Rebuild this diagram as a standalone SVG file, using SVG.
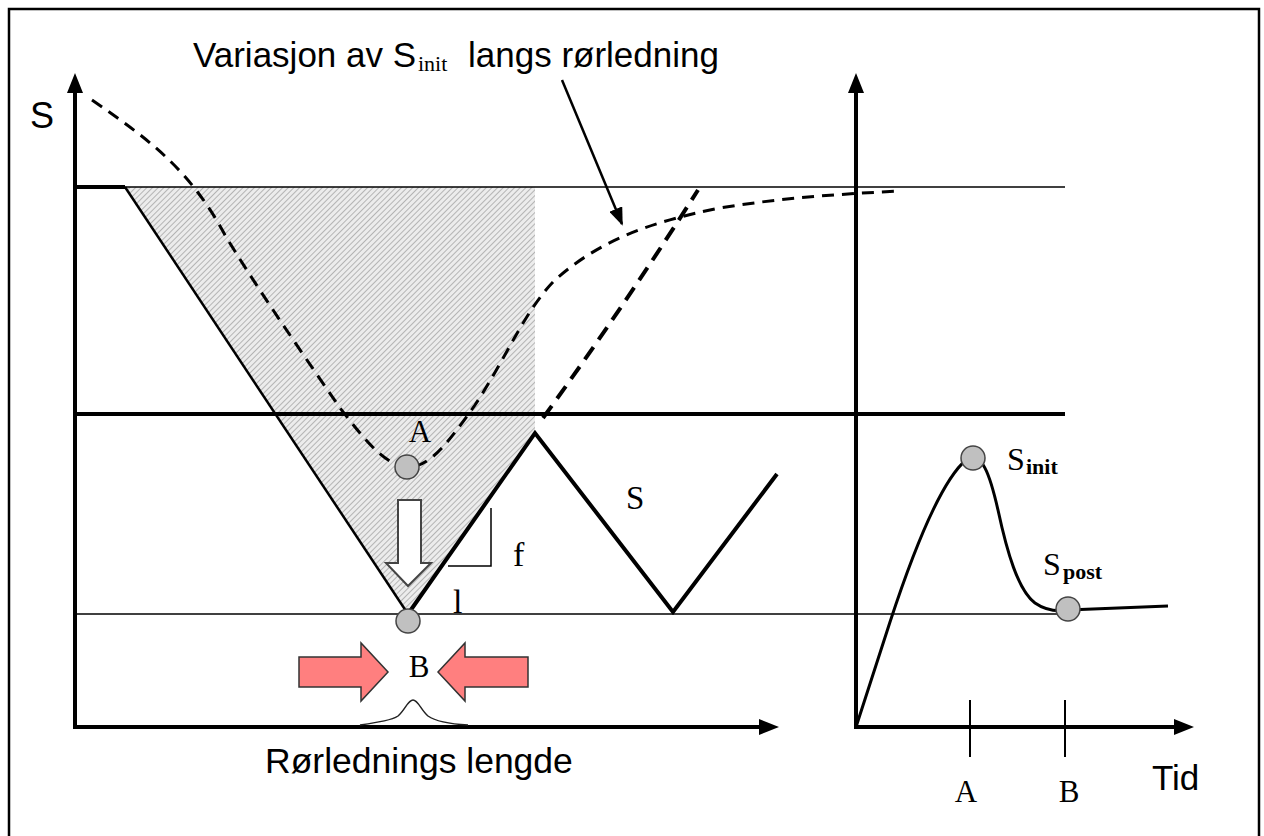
<svg xmlns="http://www.w3.org/2000/svg" width="1264" height="836" viewBox="0 0 1264 836">
<defs>
<pattern id="hatch" width="4" height="4" patternUnits="userSpaceOnUse" patternTransform="rotate(45)">
<rect width="4" height="4" fill="#ececec"/>
<line x1="0" y1="0" x2="0" y2="4" stroke="#a6a6a6" stroke-width="1.6"/>
</pattern>
<marker id="ah2" viewBox="0 0 10 10" refX="9" refY="5" markerWidth="18" markerHeight="14" markerUnits="userSpaceOnUse" orient="auto" preserveAspectRatio="none">
<path d="M0,0 L10,5 L0,10 z" fill="#000"/>
</marker>
</defs>
<style>
.sans{font-family:"Liberation Sans",Arial,sans-serif;fill:#000}
.serif{font-family:"Liberation Serif","Times New Roman",serif;fill:#000}
.ax{stroke:#000;stroke-width:4;fill:none}
.thin{stroke:#000;stroke-width:1.5;fill:none}
.thick{stroke:#000;stroke-width:4;fill:none}
.dash1{stroke:#000;stroke-width:3;fill:none;stroke-dasharray:12 8}
.dash2{stroke:#000;stroke-width:4;fill:none;stroke-dasharray:15 9}
.dot{fill:#c0c0c0;stroke:#444;stroke-width:1.5}
.red{fill:#ff7f7f;stroke:#333;stroke-width:1.5}
</style>
<rect x="0" y="0" width="1264" height="836" fill="#fff"/>
<rect x="9" y="9" width="1250" height="840" fill="none" stroke="#000" stroke-width="2.5"/>

<g id="hatched-area">
<polygon points="125,187 535,187 535,433 408,614" fill="url(#hatch)"/>
</g>

<g id="reference-lines">
<line class="thin" x1="75" y1="187" x2="1065" y2="187"/>
<line class="thin" x1="75" y1="614" x2="1062" y2="614"/>
<line class="thick" x1="75" y1="414" x2="1065" y2="414"/>
<line class="thick" x1="75" y1="187" x2="125" y2="187"/>
</g>

<g id="left-axes">
<line class="ax" x1="75" y1="90" x2="75" y2="729"/>
<polygon points="75,73 67,93 83,93" fill="#000"/>
<line class="ax" x1="73" y1="727" x2="762" y2="727"/>
<polygon points="779,727 759,719 759,735" fill="#000"/>
</g>

<g id="right-axes">
<line class="ax" x1="856" y1="90" x2="856" y2="729"/>
<polygon points="856,73 848,93 864,93" fill="#000"/>
<line class="ax" x1="854" y1="727" x2="1176" y2="727"/>
<polygon points="1194,727 1174,719 1174,735" fill="#000"/>
<line stroke="#000" stroke-width="2" x1="970" y1="700" x2="970" y2="757"/>
<line stroke="#000" stroke-width="2" x1="1065" y1="700" x2="1065" y2="757"/>
</g>

<g id="v-profile">
<line stroke="#000" stroke-width="2.5" x1="125" y1="187" x2="408" y2="614"/>
<polyline class="thick" points="408,614 535,433 673,612 777,474"/>
<polyline class="thin" points="448,566 491,566 491,508"/>
</g>

<g id="dashed-curves">
<path class="dash1" d="M92,100 C150,140 190,170 225,235 C255,285 300,350 340,408 C365,440 385,466 408,467 C430,468 450,440 475,405 C505,360 525,310 555,280 C600,240 650,222 720,208 C780,198 840,194 900,191"/>
<path class="dash2" d="M543,418 Q625,305 698,190"/>
</g>

<g id="title">
<text class="sans" x="193" y="67" font-size="35">Variasjon av S</text>
<text class="serif" x="418" y="71" font-size="22">init</text>
<text class="sans" x="468" y="67" font-size="35">langs rørledning</text>
<line stroke="#000" stroke-width="2.5" x1="562" y1="80" x2="622" y2="224" marker-end="url(#ah2)"/>
</g>

<g id="point-A">
<text class="serif" x="420" y="442" font-size="31" text-anchor="middle">A</text>
<circle class="dot" cx="407" cy="467" r="12"/>
</g>

<g id="down-arrow">
<polygon points="398,500 421,500 421,563 431,563 408,586 386,563 398,563" fill="#fff" stroke="#444" stroke-width="2"/>
</g>

<g id="point-B">
<circle class="dot" cx="408" cy="621" r="12"/>
<text class="serif" x="419" y="677" font-size="31" text-anchor="middle">B</text>
<polygon class="red" points="299,657 361,657 361,643 388,672 361,701 361,687 299,687"/>
<polygon class="red" points="528,657 465,657 465,643 438,672 465,701 465,687 528,687"/>
<path stroke="#222" stroke-width="1.5" fill="none" d="M360,725 C380,722 392,720 398,716 C405,710 408,700 413,700 C418,700 421,710 428,716 C435,721 450,724 468,725"/>
</g>

<g id="labels-left">
<text class="sans" x="30" y="128" font-size="36">S</text>
<text class="serif" x="513" y="566" font-size="34">f</text>
<text class="serif" x="453" y="613" font-size="34">l</text>
<text class="serif" x="626" y="509" font-size="33">S</text>
<text class="sans" x="265" y="773" font-size="35.5">Rørlednings lengde</text>
</g>

<g id="time-curve">
<path stroke="#000" stroke-width="3" fill="none" d="M856,727 L890,622 C912,555 940,482 966,460 C982,450 990,475 998,510 C1007,552 1018,590 1035,603 C1045,610 1055,612 1068,610 L1168,606"/>
<circle class="dot" cx="973" cy="458" r="12"/>
<circle class="dot" cx="1068" cy="609" r="12"/>
<text class="serif" x="1007" y="470" font-size="32">S</text>
<text class="serif" x="1026" y="474" font-size="22" font-weight="bold">init</text>
<text class="serif" x="1043" y="575" font-size="32">S</text>
<text class="serif" x="1063" y="579" font-size="22" font-weight="bold">post</text>
<text class="serif" x="966" y="802" font-size="31" text-anchor="middle">A</text>
<text class="serif" x="1069" y="802" font-size="31" text-anchor="middle">B</text>
<text class="sans" x="1152" y="790" font-size="35">Tid</text>
</g>
</svg>
